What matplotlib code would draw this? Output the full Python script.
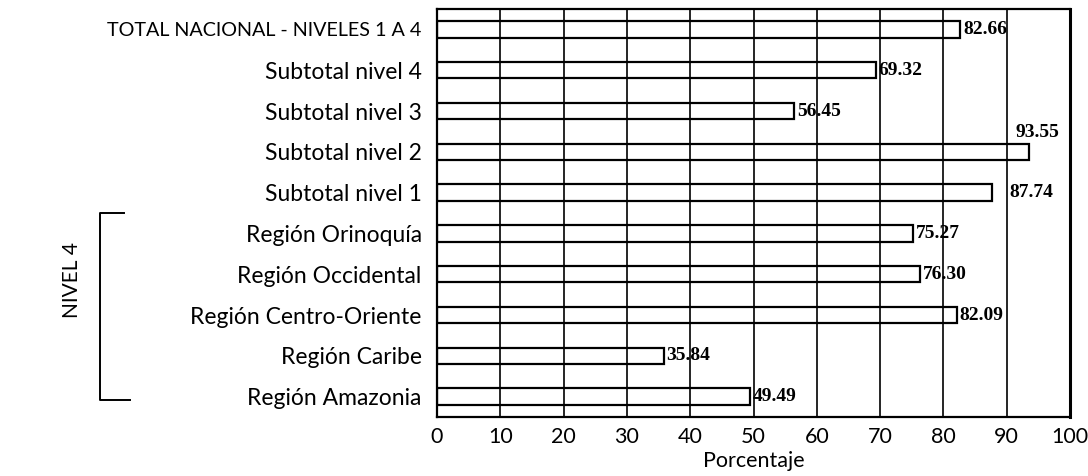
import matplotlib
matplotlib.use("Agg")
import matplotlib.pyplot as plt
from matplotlib.transforms import blended_transform_factory

categories = [
    "TOTAL NACIONAL - NIVELES 1 A 4",
    "Subtotal nivel 4",
    "Subtotal nivel 3",
    "Subtotal nivel 2",
    "Subtotal nivel 1",
    "Región Orinoquía",
    "Región Occidental",
    "Región Centro-Oriente",
    "Región Caribe",
    "Región Amazonia",
]
values = [82.66, 69.32, 56.45, 93.55, 87.74, 75.27, 76.30, 82.09, 35.84, 49.49]
value_labels = ["82.66", "69.32", "56.45", "93.55", "87.74",
                "75.27", "76.30", "82.09", "35.84", "49.49"]
x_ticks = [0, 10, 20, 30, 40, 50, 60, 70, 80, 90, 100]
group_label = "NIVEL 4"

SANS = ["Lato", "DejaVu Sans"]
SERIF = ["Liberation Serif", "DejaVu Serif"]

fig = plt.figure(figsize=(10.88, 4.76), dpi=100)
ax = fig.add_axes([437 / 1088, 1 - 417 / 476, (1070 - 437) / 1088, (417 - 9) / 476])

y = list(range(len(categories)))
ax.barh(y, values, height=0.4, facecolor="none", edgecolor="black",
        linewidth=1.6, zorder=3)

ax.set_xlim(0, 100)
ax.set_ylim(len(categories) - 0.5, -0.5)
ax.set_xticks(x_ticks)
ax.set_xticklabels([str(t) for t in x_ticks], fontfamily=SANS, fontsize=15.5)
ax.set_yticks(y)
ax.set_yticklabels(categories, fontfamily=SANS, fontsize=16.5)
# the all-caps total label runs narrower in the original typeface
ax.get_yticklabels()[0].set_fontsize(14.2)
ax.tick_params(axis="both", length=0, colors="black")
ax.tick_params(axis="y", pad=11)
ax.tick_params(axis="x", pad=7)
ax.grid(True, axis="x", color="black", linewidth=1.2, zorder=2)
ax.set_axisbelow(False)
for side in ["left", "top", "bottom"]:
    ax.spines[side].set_linewidth(1.6)
ax.spines["right"].set_linewidth(2.2)

ax.set_xlabel("Porcentaje", fontfamily=SANS, fontsize=15.5)
ax.xaxis.set_label_coords(0.5, -0.083)

# value labels: most sit just right of the bar end
for yi, v, lab in zip(y, values, value_labels):
    style = dict(textcoords="offset points", fontfamily=SERIF, fontweight="bold",
                 fontsize=14, zorder=5)
    if v > 90:
        ax.annotate(lab, (v, yi - 0.2), xytext=(-10, 2), ha="left", va="bottom", **style)
    elif 85 < v < 90:
        ax.annotate(lab, (90, yi), xytext=(2, 0), ha="left", va="center", **style)
    else:
        ax.annotate(lab, (v, yi), xytext=(2, 0), ha="left", va="center", **style)

# bracket for the regional (nivel 4) group
tr = blended_transform_factory(fig.transFigure, ax.transData)
bx = 100 / 1088
ax.plot([124 / 1088, bx, bx, 130 / 1088], [4.5, 4.5, 9.08, 9.08],
        color="black", linewidth=1.4, transform=tr, clip_on=False)
ax.text(72 / 1088, 6.15, group_label, transform=tr, rotation=90,
        ha="center", va="center", fontfamily=SANS, fontsize=15)

fig.savefig("out.png", dpi=100)
